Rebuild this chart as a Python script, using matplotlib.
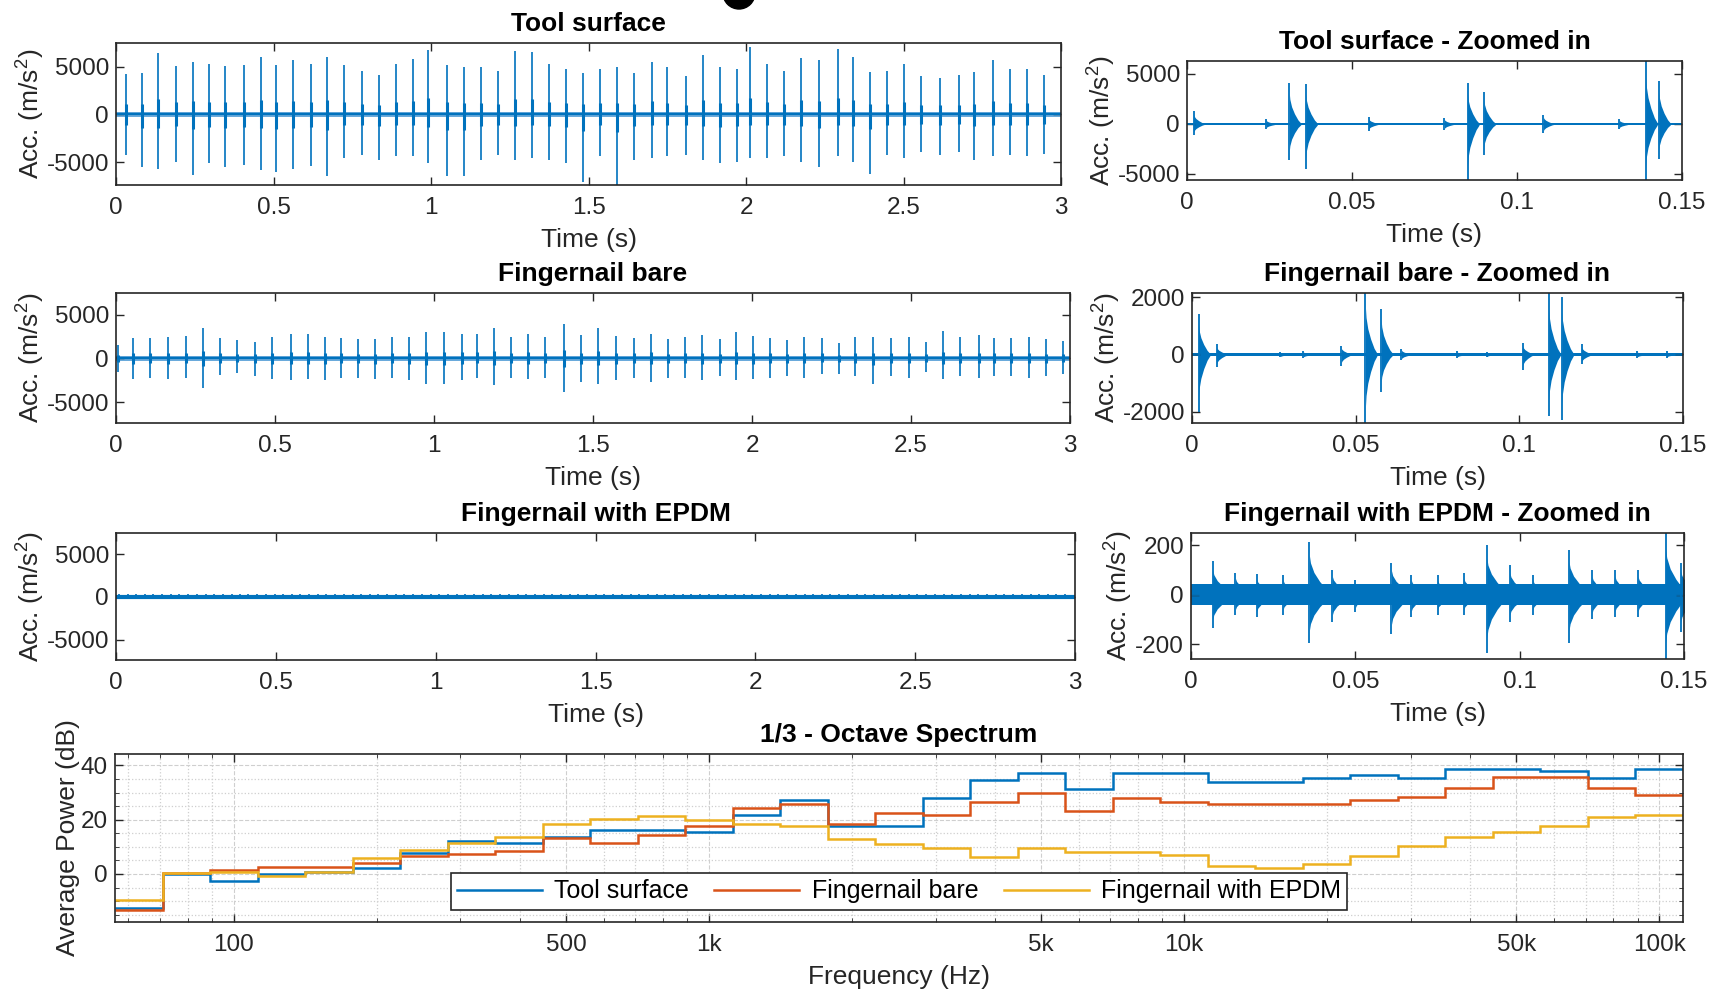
import numpy as np
import matplotlib
matplotlib.use('Agg')
import matplotlib.pyplot as plt
import matplotlib.patches as mpatches
from matplotlib.lines import Line2D
from matplotlib.ticker import FixedLocator, MultipleLocator, NullFormatter

plt.rcParams['font.family'] = ['Liberation Sans', 'DejaVu Sans']
plt.rcParams['mathtext.default'] = 'regular'
plt.rcParams['axes.unicode_minus'] = False

C_TOOL = '#0072BD'
C_BARE = '#D95319'
C_EPDM = '#EDB120'
AX_COL = '#262626'
LAB_FS = 19
TICK_FS = 17.5
TITLE_FS = 19

# ---- full 3 s records: burst time (s), positive / negative peak (m/s^2)
tool_t = [0.032, 0.082, 0.134, 0.191, 0.243, 0.295, 0.347, 0.405, 0.459, 0.507,
          0.563, 0.618, 0.671, 0.725, 0.780, 0.834, 0.888, 0.942, 0.992, 1.051,
          1.105, 1.159, 1.213, 1.267, 1.321, 1.375, 1.429, 1.484, 1.538, 1.592,
          1.646, 1.700, 1.750, 1.808, 1.862, 1.917, 1.971, 2.014, 2.068, 2.122,
          2.176, 2.231, 2.291, 2.339, 2.393, 2.447, 2.501, 2.556, 2.616, 2.675,
          2.725, 2.783, 2.837, 2.892, 2.946]
tool_hi = [4200, 4300, 6500, 5100, 5500, 5300, 5100, 5200, 6000, 5200,
           5700, 5300, 6000, 5200, 4600, 4100, 5300, 5800, 6800, 5200,
           5000, 5000, 4600, 6700, 6600, 5300, 4800, 4300, 4800, 5000,
           4300, 5500, 5000, 4000, 6200, 5000, 4800, 7100, 5300, 4600,
           5900, 5700, 6900, 6000, 4500, 4600, 5300, 4000, 3800, 4100,
           4500, 5700, 4800, 4800, 4100]
tool_lo = [-4300, -5500, -5700, -5000, -6300, -5100, -5500, -5300, -5800, -6000,
           -5700, -5400, -6500, -4600, -4300, -4800, -4400, -4400, -5100, -6500,
           -6500, -4800, -4300, -4800, -4600, -4800, -5100, -7100, -4400, -7400,
           -4800, -4600, -4400, -4300, -4800, -5100, -5000, -4600, -4600, -4400,
           -5000, -5500, -4400, -5000, -6200, -4300, -4600, -3900, -4300, -3900,
           -4800, -4400, -4300, -4400, -4100]

bare_t = [0.005, 0.055, 0.108, 0.162, 0.219, 0.273, 0.326, 0.382, 0.436, 0.489,
          0.551, 0.605, 0.656, 0.707, 0.761, 0.814, 0.868, 0.921, 0.975, 1.033,
          1.087, 1.136, 1.189, 1.243, 1.296, 1.350, 1.408, 1.461, 1.517, 1.571,
          1.628, 1.682, 1.736, 1.789, 1.843, 1.900, 1.950, 2.003, 2.057, 2.110,
          2.164, 2.221, 2.275, 2.324, 2.381, 2.437, 2.494, 2.548, 2.602, 2.655,
          2.713, 2.762, 2.816, 2.870, 2.923, 2.977]
bare_hi = [1500, 2300, 2300, 2400, 2600, 3500, 2300, 2100, 1900, 2500,
           2800, 2800, 2400, 2300, 2200, 2200, 2500, 2500, 3000, 3000,
           2800, 2800, 3500, 2500, 2800, 2500, 4000, 2700, 3500, 2600,
           2300, 2800, 2200, 2500, 2700, 2200, 3000, 2600, 2300, 2100,
           2500, 2300, 1800, 2400, 2500, 2300, 2500, 1900, 3100, 2500,
           2700, 2300, 2300, 2400, 2200, 2000]
bare_lo = [-1500, -2400, -2200, -2400, -2200, -3400, -1900, -1700, -2000, -2400,
           -2500, -2400, -2500, -2200, -2200, -2400, -2200, -2500, -2900, -2900,
           -2500, -2200, -3100, -2200, -2400, -2200, -3900, -2700, -2900, -2500,
           -2200, -2700, -2200, -2200, -2500, -2000, -2500, -2400, -2200, -2000,
           -2200, -1800, -1800, -2000, -2900, -2000, -2200, -1600, -2400, -2000,
           -2200, -2000, -2000, -2200, -2000, -1800]

epdm_t = [0.010, 0.037, 0.062, 0.090, 0.117, 0.145, 0.172, 0.198, 0.226, 0.253,
          0.280, 0.306, 0.334, 0.362, 0.388, 0.414, 0.441, 0.469, 0.496, 0.523,
          0.550, 0.577, 0.604, 0.632, 0.658, 0.685, 0.712, 0.740, 0.767, 0.794,
          0.821, 0.848, 0.875, 0.902, 0.930, 0.957, 0.984, 1.011, 1.038, 1.066,
          1.093, 1.120, 1.147, 1.174, 1.202, 1.229, 1.256, 1.283, 1.310, 1.338,
          1.365, 1.392, 1.419, 1.446, 1.474, 1.501, 1.528, 1.555, 1.582, 1.610,
          1.637, 1.664, 1.691, 1.718, 1.746, 1.773, 1.800, 1.827, 1.854, 1.882,
          1.909, 1.936, 1.963, 1.990, 2.018, 2.045, 2.072, 2.099, 2.126, 2.154,
          2.181, 2.208, 2.235, 2.262, 2.290, 2.317, 2.344, 2.371, 2.398, 2.426,
          2.453, 2.480, 2.507, 2.534, 2.562, 2.589, 2.616, 2.643, 2.670, 2.698,
          2.725, 2.752, 2.779, 2.806, 2.834, 2.861, 2.888, 2.915, 2.942, 2.970]
epdm_amp = 300

# ---- zoomed 0.15 s windows
tool_z_t = [0.002, 0.024, 0.031, 0.036, 0.055, 0.078, 0.085, 0.090, 0.108, 0.131, 0.139, 0.143]
tool_z_hi = [1300, 500, 4100, 4000, 700, 600, 4100, 3200, 900, 500, 6300, 4300]
tool_z_lo = [-1100, -500, -3600, -4500, -700, -600, -5600, -3100, -900, -500, -5600, -3500]

bare_z_t = [0.002, 0.0075, 0.027, 0.034, 0.0456, 0.053, 0.0578, 0.064, 0.081, 0.090,
            0.101, 0.109, 0.113, 0.119, 0.136, 0.145]
bare_z_hi = [1400, 350, 100, 120, 300, 2150, 1600, 200, 120, 100, 400, 2150, 2000, 350, 120, 120]
bare_z_lo = [-2000, -450, -100, -120, -400, -2400, -1300, -200, -120, -100, -550, -2150, -2300, -350, -120, -120]

epdm_z_t = [0.0066, 0.0135, 0.020, 0.028, 0.036, 0.043, 0.050, 0.061, 0.067, 0.075,
            0.083, 0.090, 0.097, 0.104, 0.115, 0.122, 0.129, 0.136, 0.1444, 0.149]
epdm_z_hi = [135, 90, 85, 80, 215, 100, 60, 130, 80, 80, 90, 200, 120, 80, 180, 100, 100, 100, 250, 130]
epdm_z_lo = [-135, -80, -90, -80, -195, -110, -70, -160, -90, -80, -80, -235, -110, -80, -195, -100, -90, -90, -260, -150]

# ---- 1/3 octave spectrum (dB)
band_centres = [63, 80, 100, 125, 160, 200, 250, 315, 400, 500, 630, 800, 1000, 1250, 1600,
                2000, 2500, 3150, 4000, 5000, 6300, 8000, 10000, 12500, 16000, 20000, 25000,
                31500, 40000, 50000, 63000, 80000, 100000]
tool_db = [-12.7, 0.0, -2.5, -0.1, 0.9, 2.3, 7.7, 12.0, 11.4, 13.6, 16.3, 16.3, 15.3, 21.9, 27.4,
           17.8, 17.8, 28.1, 34.6, 37.1, 31.3, 37.1, 37.1, 34.0, 33.7, 35.5, 36.4,
           35.2, 38.7, 38.7, 37.9, 35.2, 38.7]
bare_db = [-13.1, 0.3, 1.5, 2.5, 2.7, 4.0, 6.7, 7.3, 8.3, 13.2, 11.4, 14.4, 17.8, 24.3, 25.9,
           18.5, 22.6, 21.7, 26.6, 29.7, 23.3, 28.1, 26.6, 25.8, 25.8, 25.8, 27.2,
           28.2, 31.5, 35.6, 35.6, 31.5, 29.1]
epdm_db = [-9.6, 0.5, 0.9, -0.7, 0.9, 5.8, 8.9, 11.4, 13.8, 18.5, 20.4, 21.2, 19.8, 18.5, 17.8,
           13.0, 11.0, 9.7, 6.4, 9.7, 8.0, 8.0, 7.0, 3.1, 2.3, 3.7, 6.6,
           10.3, 13.5, 15.3, 17.7, 21.1, 21.7]

W, H = 1711, 989
fig = plt.figure(figsize=(W / 100, H / 100), dpi=100)


def box(l, r, t, b):
    return [l / W, 1 - b / H, (r - l) / W, (b - t) / H]


def style(ax):
    ax.tick_params(direction='in', length=6, width=1, top=True, right=True,
                   colors=AX_COL, labelsize=TICK_FS)
    ax.tick_params(axis='x', pad=8.5)
    ax.tick_params(axis='y', pad=5)
    for s in ax.spines.values():
        s.set_color(AX_COL)
        s.set_linewidth(1.2)


def labels(ax, title):
    ax.set_xlabel('Time (s)', fontsize=LAB_FS, color=AX_COL, labelpad=6.5)
    ax.set_ylabel('Acc. (m/s$^{2}$)', fontsize=LAB_FS, color=AX_COL, labelpad=0)
    ax.set_title(title, fontsize=TITLE_FS, fontweight='bold', pad=8.5)


def full_panel(ax, t, hi, lo, noise, title):
    t = np.array(t); hi = np.array(hi, float); lo = np.array(lo, float)
    ax.fill_between([0, 3], -noise, noise, color='#6aaadb', lw=0)
    ax.axhline(0, color=C_TOOL, lw=1.6)
    ax.vlines(t, lo, hi, color=C_TOOL, lw=1.2)
    ax.vlines(t, lo * 0.25, hi * 0.25, color=C_TOOL, lw=2.2)
    ax.set_xlim(0, 3)
    ax.set_ylim(-7400, 7500)
    ax.set_xticks([0, 0.5, 1, 1.5, 2, 2.5, 3], ['0', '0.5', '1', '1.5', '2', '2.5', '3'])
    ax.set_yticks([-5000, 0, 5000])
    labels(ax, title)
    style(ax)


def ring(ax, t, hi, lo, dur):
    fr = np.array([0, 0.05, 0.2, 0.45, 0.75, 1.0])
    env = np.array([0.75, 0.6, 0.42, 0.25, 0.1, 0.02])
    ax.fill_between(t + fr * dur, hi * env, lo * env, color=C_TOOL, lw=0)
    ax.vlines(t, lo, hi, color=C_TOOL, lw=1.3)


def zoom_panel(ax, t, hi, lo, noise, dur, ylim, yt, title):
    ax.fill_between([0, 0.15], -noise, noise, color=C_TOOL, lw=0)
    ax.axhline(0, color=C_TOOL, lw=1.2)
    for ti, h, l in zip(t, hi, lo):
        ring(ax, ti, h, l, dur)
    ax.set_xlim(0, 0.15)
    ax.set_ylim(*ylim)
    ax.set_xticks([0, 0.05, 0.1, 0.15], ['0', '0.05', '0.1', '0.15'])
    ax.set_yticks(yt)
    labels(ax, title)
    style(ax)


ax1 = fig.add_axes(box(116, 1061, 43, 185))
full_panel(ax1, tool_t, tool_hi, tool_lo, 280, 'Tool surface')
ax2 = fig.add_axes(box(1187, 1682, 61, 180))
zoom_panel(ax2, tool_z_t, tool_z_hi, tool_z_lo, 120, 0.0035, (-5600, 6300),
           [-5000, 0, 5000], 'Tool surface - Zoomed in')

ax3 = fig.add_axes(box(116, 1070, 293, 423))
full_panel(ax3, bare_t, bare_hi, bare_lo, 280, 'Fingernail bare')
ax4 = fig.add_axes(box(1192, 1683, 293, 423))
zoom_panel(ax4, bare_z_t, bare_z_hi, bare_z_lo, 50, 0.0035, (-2400, 2150),
           [-2000, 0, 2000], 'Fingernail bare - Zoomed in')

ax5 = fig.add_axes(box(116, 1075, 533, 660))
ax5.axhline(0, color=C_TOOL, lw=3)
ax5.vlines(epdm_t, -epdm_amp, epdm_amp, color=C_TOOL, lw=1.2)
ax5.set_xlim(0, 3)
ax5.set_ylim(-7400, 7500)
ax5.set_xticks([0, 0.5, 1, 1.5, 2, 2.5, 3], ['0', '0.5', '1', '1.5', '2', '2.5', '3'])
ax5.set_yticks([-5000, 0, 5000])
labels(ax5, 'Fingernail with EPDM')
style(ax5)

ax6 = fig.add_axes(box(1191, 1684, 533, 659))
zoom_panel(ax6, epdm_z_t, epdm_z_hi, epdm_z_lo, 42, 0.007, (-260, 250),
           [-200, 0, 200], 'Fingernail with EPDM - Zoomed in')

# spectrum
ax7 = fig.add_axes(box(115, 1683, 754, 922))
k = np.round(10 * np.log10(band_centres))
edges = 10 ** ((np.append(k, k[-1] + 1) - 0.5) / 10)
ax7.set_xscale('log')
ax7.stairs(tool_db, edges, color=C_TOOL, lw=1.8, baseline=None)
ax7.stairs(bare_db, edges, color=C_BARE, lw=1.8, baseline=None)
ax7.stairs(epdm_db, edges, color=C_EPDM, lw=1.8, baseline=None)
ax7.set_xlim(edges[0], edges[-1])
ax7.set_ylim(-17.7, 44.2)
ax7.set_xticks([100, 500, 1000, 5000, 10000, 50000, 100000],
               ['100', '500', '1k', '5k', '10k', '50k', '100k'])
minor = [m * 10 ** d for d in range(1, 6) for m in range(2, 10)
         if edges[0] < m * 10 ** d < edges[-1] and m != 5]
ax7.xaxis.set_minor_locator(FixedLocator(minor))
ax7.xaxis.set_minor_formatter(NullFormatter())
ax7.set_yticks([0, 20, 40])
ax7.yaxis.set_minor_locator(MultipleLocator(5))
ax7.grid(which='major', color='#cfcfcf', ls='--', lw=0.8)
ax7.grid(which='minor', color='#cfcfcf', ls=':', lw=0.9)
ax7.set_axisbelow(True)
ax7.set_xlabel('Frequency (Hz)', fontsize=LAB_FS, color=AX_COL, labelpad=6.5)
ax7.set_ylabel('Average Power (dB)', fontsize=LAB_FS, color=AX_COL, labelpad=1)
ax7.set_title('1/3 - Octave Spectrum', fontsize=TITLE_FS, fontweight='bold', pad=8.5)
style(ax7)
ax7.tick_params(which='minor', direction='in', length=3, top=True, right=True, colors=AX_COL)
handles = [Line2D([], [], color=C_TOOL, lw=1.8), Line2D([], [], color=C_BARE, lw=1.8),
           Line2D([], [], color=C_EPDM, lw=1.8)]
leg = ax7.legend(handles, ['Tool surface', 'Fingernail bare', 'Fingernail with EPDM'],
                 loc='lower center', ncol=3, fontsize=18, handlelength=3.4,
                 handletextpad=0.5, columnspacing=1.0, fancybox=False, framealpha=1,
                 borderaxespad=0.5, borderpad=0.25)
leg.get_frame().set_edgecolor(AX_COL)
leg.get_frame().set_linewidth(1.2)

# stray round mark at the top edge of the source image
fig.patches.append(mpatches.Ellipse((739 / W, 1 + 7 / H), 32 / W, 32 / H,
                                    transform=fig.transFigure, color='black'))

fig.savefig('out.png', dpi=100)
